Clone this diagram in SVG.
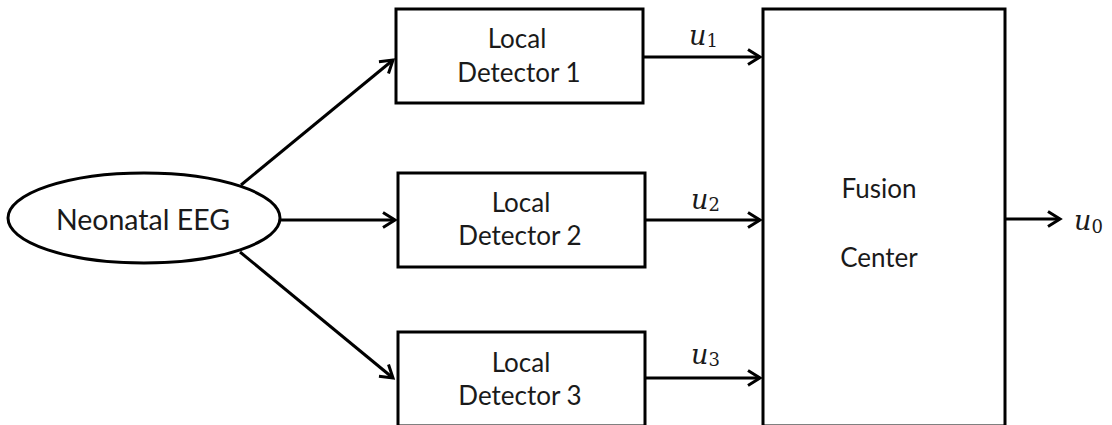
<svg xmlns="http://www.w3.org/2000/svg" width="1112" height="425" viewBox="0 0 1112 425">
  <style>
    .shape { fill: #ffffff; stroke: #000000; stroke-width: 3; }
    .label { font-family: Lato, "Open Sans", "Liberation Sans", sans-serif; font-size: 26px; fill: #1a1a1a; text-anchor: middle; }
    .big { font-size: 28.5px; }
    .conn { fill: none; stroke: #000000; stroke-width: 3; marker-end: url(#arrow); }
    .math { font-family: "DejaVu Serif", "Liberation Serif", serif; fill: #1a1a1a; }
    .var { font-style: italic; font-size: 27px; }
    .sub { font-size: 18px; }
  </style>
  <defs>
    <marker id="arrow" markerUnits="userSpaceOnUse" markerWidth="16" markerHeight="16" viewBox="0 0 16 16" refX="12" refY="8" orient="auto" overflow="visible">
      <path d="M0,0.5 L12,8 L0,15.5" fill="none" stroke="#000000" stroke-width="3"/>
    </marker>
  </defs>

  <rect width="1112" height="425" fill="#ffffff"/>

  <!-- signal source -->
  <g id="node-eeg">
    <ellipse class="shape" cx="144" cy="218" rx="136" ry="45"/>
    <text class="label big" x="143" y="230">Neonatal EEG</text>
  </g>

  <!-- local detectors -->
  <g id="node-detector1">
    <rect class="shape" x="396" y="9" width="247" height="94"/>
    <text class="label" x="517" y="48">Local</text>
    <text class="label" x="519" y="82">Detector 1</text>
  </g>
  <g id="node-detector2">
    <rect class="shape" x="398" y="173" width="247" height="94"/>
    <text class="label" x="521" y="212">Local</text>
    <text class="label" x="520" y="245">Detector 2</text>
  </g>
  <g id="node-detector3">
    <rect class="shape" x="398" y="332" width="247" height="94"/>
    <text class="label" x="521" y="372">Local</text>
    <text class="label" x="520" y="405">Detector 3</text>
  </g>

  <!-- fusion center -->
  <g id="node-fusion">
    <rect class="shape" x="763" y="9" width="242" height="417"/>
    <text class="label" x="879" y="198">Fusion</text>
    <text class="label" x="879" y="267">Center</text>
  </g>

  <!-- connectors -->
  <g id="connectors">
    <line class="conn" x1="241" y1="185" x2="393" y2="60"/>
    <line class="conn" x1="280" y1="220" x2="395" y2="220"/>
    <line class="conn" x1="240" y1="252" x2="393" y2="378"/>
    <line class="conn" x1="643" y1="57" x2="760" y2="57"/>
    <line class="conn" x1="645" y1="220" x2="760" y2="220"/>
    <line class="conn" x1="645" y1="378" x2="760" y2="378"/>
    <line class="conn" x1="1005" y1="219" x2="1060" y2="219"/>
  </g>

  <!-- decision labels -->
  <g id="labels">
    <text class="math" x="689" y="45"><tspan class="var">u</tspan><tspan class="sub" dy="2">1</tspan></text>
    <text class="math" x="691" y="209"><tspan class="var">u</tspan><tspan class="sub" dy="2">2</tspan></text>
    <text class="math" x="691" y="364"><tspan class="var">u</tspan><tspan class="sub" dy="2">3</tspan></text>
    <text class="math" x="1074" y="230"><tspan class="var">u</tspan><tspan class="sub" dy="3">0</tspan></text>
  </g>
</svg>
